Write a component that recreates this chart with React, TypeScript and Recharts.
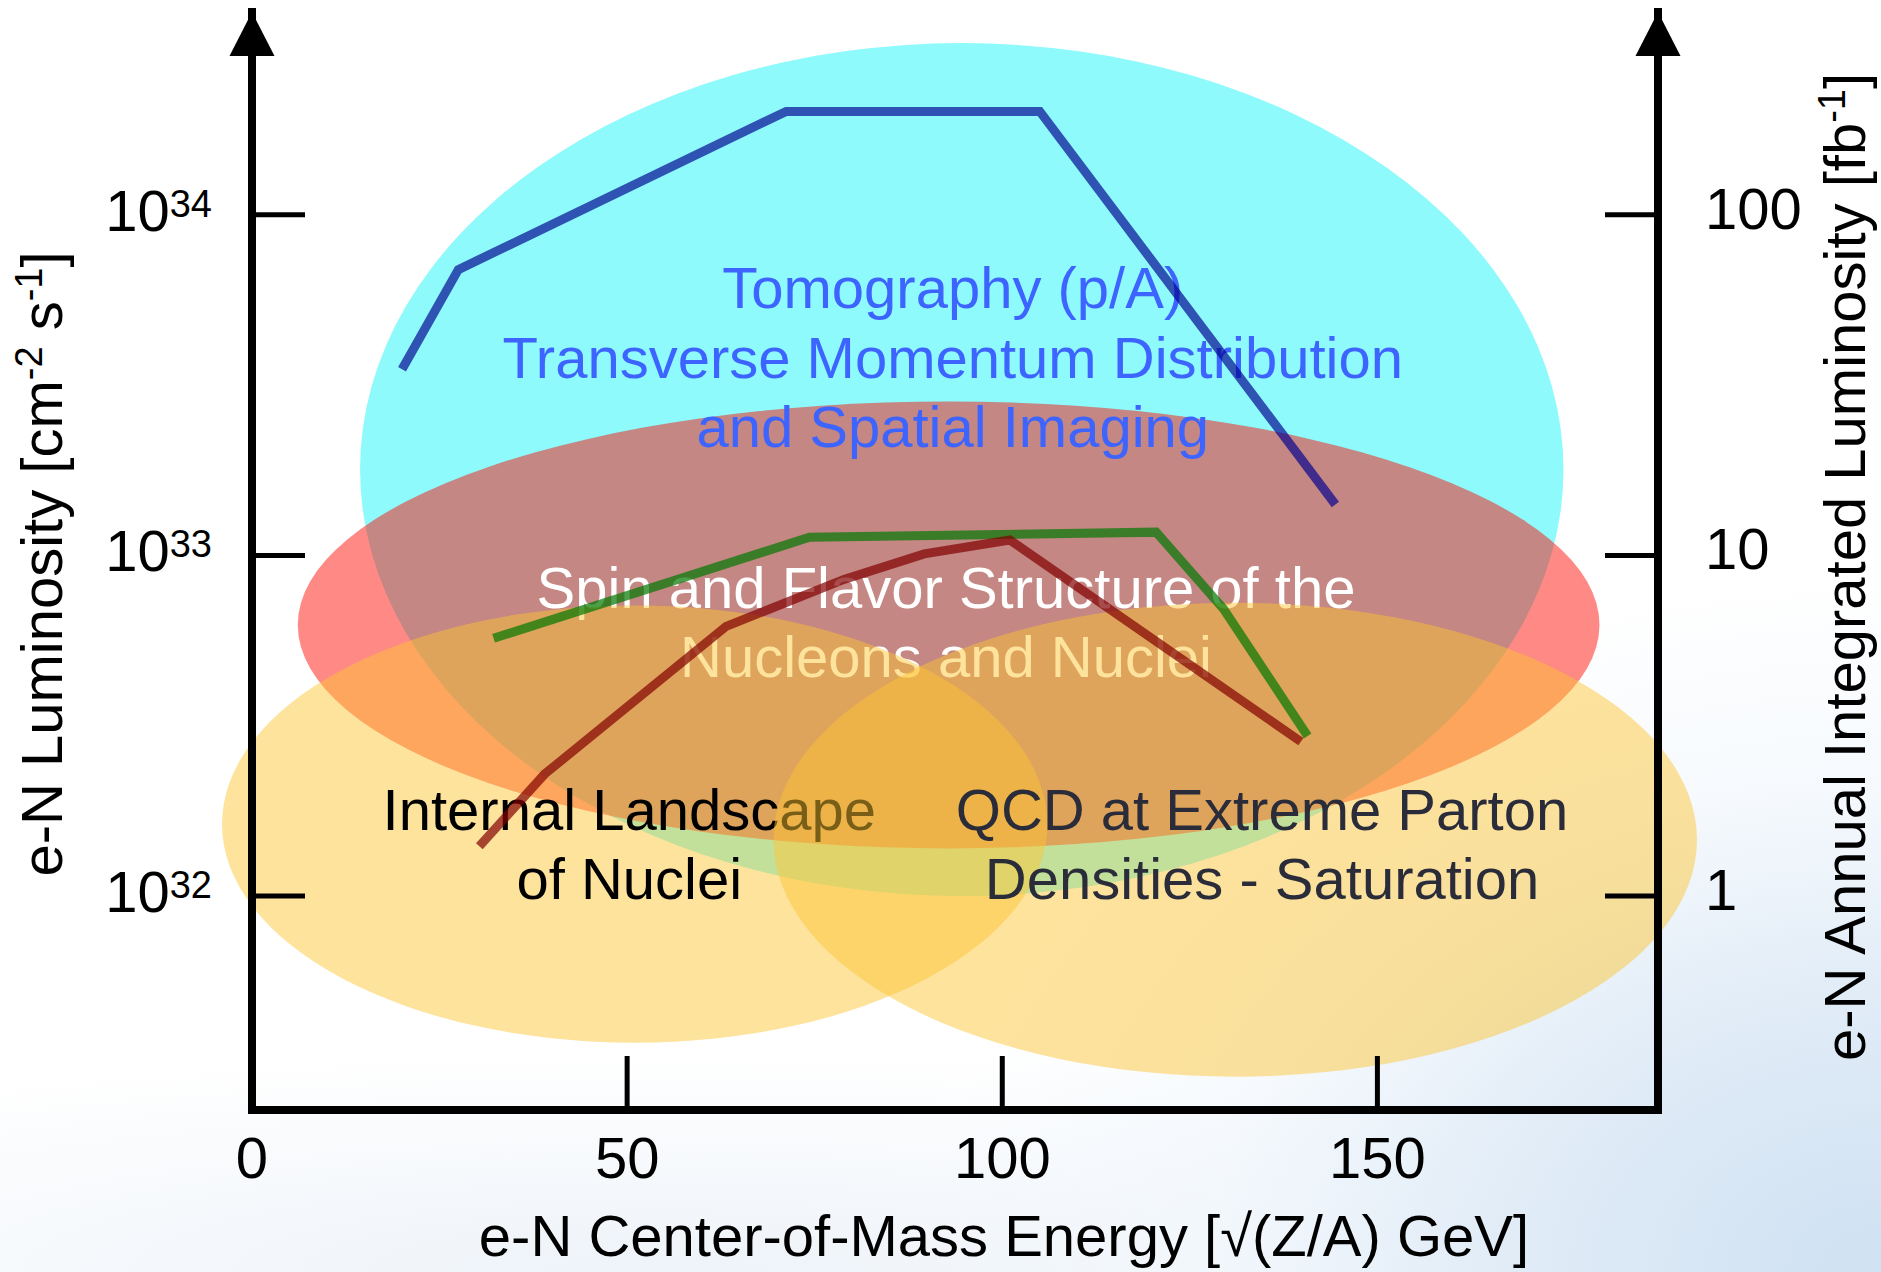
import React from 'react';
import { ComposedChart, Line, XAxis, YAxis, ReferenceArea } from 'recharts';

const W = 1881;
const H = 1272;
const FONT = '"Liberation Sans", Arial, Helvetica, sans-serif';

// ---- data ----
const BLUE_X = [20.0, 27.5, 71.2, 105.0, 144.4];
const BLUE_Y = [3.52e33, 6.9e33, 2.01e34, 2.01e34, 1.41e33];
const GREEN_X = [32.2, 74.3, 120.5, 129.5, 140.7];
const GREEN_Y = [5.71e32, 1.13e33, 1.17e33, 6.96e32, 2.95e32];
const RED_X = [30.3, 39.0, 63.2, 78.9, 89.6, 101.0, 139.8];
const RED_Y = [1.4e32, 2.28e32, 6.19e32, 8.5e32, 1.01e33, 1.11e33, 2.84e32];

const X_TICKS = [0, 50, 100, 150];
const X_TICK_LABELS = ['0', '50', '100', '150'];
const LEFT_TICKS = [1e32, 1e33, 1e34];
const LEFT_TICK_EXP = ['32', '33', '34'];
const RIGHT_TICKS = [1, 10, 100];
const RIGHT_TICK_LABELS = ['1', '10', '100'];

const REGION_LABELS = [
  ['Tomography (p/A)', 'Transverse Momentum Distribution', 'and Spatial Imaging'],
  ['Spin and Flavor Structure of the', 'Nucleons and Nuclei'],
  ['Internal Landscape', 'of Nuclei'],
  ['QCD at Extreme Parton', 'Densities - Saturation'],
];
const REGION_X1 = [14.4, 6.1, -4.0, 69.5];
const REGION_X2 = [174.8, 179.6, 106.0, 192.6];
const REGION_Y1 = [1.0e32, 1.38e32, 3.71e31, 2.95e31];
const REGION_Y2 = [3.19e34, 2.83e33, 7.13e32, 7.26e32];

// ---- styles ----
const REGION_STYLE = [
  { fill: '#8EFAFC', opacity: 1, text: '#3D64FF', fx: 0.4925, fy: 0.3107, lh: 69.5 },
  { fill: 'rgb(255,10,0)', opacity: 0.478, text: '#FFFFFF', fx: 0.498, fy: 0.4625, lh: 69 },
  { fill: 'rgb(252,196,50)', opacity: 0.48, text: '#000000', fx: 0.4935, fy: 0.5137, lh: 69 },
  { fill: 'rgb(252,196,50)', opacity: 0.48, text: '#2B2C3A', fx: 0.529, fy: 0.4797, lh: 69 },
];
// drawing order: [regionIndex, part]
const DRAW_ORDER: [number, 'shape' | 'label'][] = [
  [0, 'shape'], [1, 'shape'], [0, 'label'], [1, 'label'],
  [2, 'shape'], [2, 'label'], [3, 'shape'], [3, 'label'],
];

const Y_MIN = Math.pow(10, 31.372);
const Y_MAX = Math.pow(10, 34.595);
const R_MIN = Y_MIN / 1e32;
const R_MAX = Y_MAX / 1e32;
const X_MAX = 187.4;

const toPts = (xs: number[], ys: number[]) => xs.map((x, i) => ({ x, y: ys[i] }));
const blueData = toPts(BLUE_X, BLUE_Y);
const greenData = toPts(GREEN_X, GREEN_Y);
const redData = toPts(RED_X, RED_Y);

const makeShape = (idx: number, part: 'shape' | 'label') => (props: any) => {
  const { x, y, width, height } = props;
  const st = REGION_STYLE[idx];
  if (part === 'shape') {
    return (
      <ellipse
        cx={x + width / 2}
        cy={y + height / 2}
        rx={Math.abs(width) / 2}
        ry={Math.abs(height) / 2}
        fill={st.fill}
        fillOpacity={st.opacity}
      />
    );
  }
  const cx = x + width * st.fx;
  const by = y + height * st.fy;
  return (
    <text fontFamily={FONT} fontSize={58} fill={st.text} textAnchor="middle">
      {REGION_LABELS[idx].map((t, i) => (
        <tspan key={i} x={cx} y={by + i * st.lh}>{t}</tspan>
      ))}
    </text>
  );
};

const LeftTick = (props: any) => {
  const { x, y, payload } = props;
  const i = LEFT_TICKS.indexOf(payload.value);
  return (
    <g>
      <line x1={x} y1={y} x2={x + 53} y2={y} stroke="#000" strokeWidth={5} />
      <text x={x - 40} y={y + 16} textAnchor="end" fontFamily={FONT} fontSize={58} fill="#000">
        <tspan>10</tspan>
        <tspan dy={-14} fontSize={38}>{LEFT_TICK_EXP[i]}</tspan>
      </text>
    </g>
  );
};

const RightTick = (props: any) => {
  const { x, y, payload } = props;
  const i = RIGHT_TICKS.indexOf(payload.value);
  return (
    <g>
      <line x1={x} y1={y} x2={x - 53} y2={y} stroke="#000" strokeWidth={5} />
      <text x={x + 47} y={y + 14} textAnchor="start" fontFamily={FONT} fontSize={58} fill="#000">
        {RIGHT_TICK_LABELS[i]}
      </text>
    </g>
  );
};

const BottomTick = (props: any) => {
  const { x, y, payload } = props;
  const i = X_TICKS.indexOf(payload.value);
  return (
    <g>
      {payload.value !== 0 && (
        <line x1={x} y1={y} x2={x} y2={y - 54} stroke="#000" strokeWidth={5} />
      )}
      <text x={x} y={y + 68} textAnchor="middle" fontFamily={FONT} fontSize={58} fill="#000">
        {X_TICK_LABELS[i]}
      </text>
    </g>
  );
};

const Arrow = ({ tx, ty }: { tx: number; ty: number }) => (
  <polygon points={`${tx},${ty} ${tx - 22.5},${ty + 44} ${tx + 22.5},${ty + 44}`} fill="#000" />
);

const LeftTitle = (props: any) => {
  const vb = props.viewBox || { x: 0, y: 12, width: 252, height: 1098 };
  const ax = vb.x + vb.width;
  const bx = 62;
  const cy = 564;
  return (
    <g>
      <Arrow tx={ax} ty={vb.y} />
      <text
        transform={`translate(${bx},${cy}) rotate(-90)`}
        textAnchor="middle"
        fontFamily={FONT}
        fontSize={58}
        fill="#000"
      >
        <tspan>e-N Luminosity [cm</tspan>
        <tspan dy={-20} fontSize={38}>-2</tspan>
        <tspan dy={20}> s</tspan>
        <tspan dy={-20} fontSize={38}>-1</tspan>
        <tspan dy={20}>]</tspan>
      </text>
    </g>
  );
};

const RightTitle = (props: any) => {
  const vb = props.viewBox || { x: 1658, y: 12, width: 223, height: 1098 };
  const ax = vb.x;
  const bx = 1865;
  const cy = 567;
  return (
    <g>
      <Arrow tx={ax} ty={vb.y} />
      <text
        transform={`translate(${bx},${cy}) rotate(-90)`}
        textAnchor="middle"
        fontFamily={FONT}
        fontSize={58}
        fill="#000"
      >
        <tspan>e-N Annual Integrated Luminosity [fb</tspan>
        <tspan dy={-20} fontSize={38}>-1</tspan>
        <tspan dy={20}>]</tspan>
      </text>
    </g>
  );
};

const BottomTitle = () => (
  <text x={1004} y={1256} textAnchor="middle" fontFamily={FONT} fontSize={58} fill="#000">
    e-N Center-of-Mass Energy [√(Z/A) GeV]
  </text>
);

export default function App() {
  return (
    <div
      style={{
        width: W,
        height: H,
        background:
          'radial-gradient(ellipse 950px 700px at 100% 100%, #cfe1f2 0%, #e1ecf7 40%, rgba(240,246,252,0.6) 70%, rgba(255,255,255,0) 100%), radial-gradient(ellipse 1300px 220px at 35% 100%, #eef3f9 0%, rgba(255,255,255,0) 100%), #ffffff',
        overflow: 'hidden',
      }}
    >
      <style>{'body{margin:0;}'}</style>
      <ComposedChart width={W} height={H} margin={{ top: 12, right: 0, bottom: 0, left: 0 }}>
        <XAxis
          type="number"
          dataKey="x"
          domain={[0, X_MAX]}
          allowDataOverflow
          ticks={X_TICKS}
          interval={0}
          height={162}
          tickSize={0}
          tickMargin={0}
          tickLine={false}
          tick={BottomTick}
          axisLine={{ stroke: '#000', strokeWidth: 8, strokeLinecap: 'square' }}
          label={<BottomTitle />}
        />
        <YAxis
          yAxisId="left"
          orientation="left"
          scale="log"
          domain={[Y_MIN, Y_MAX]}
          allowDataOverflow
          ticks={LEFT_TICKS}
          interval={0}
          width={252}
          tickSize={0}
          tickMargin={0}
          tickLine={false}
          tick={LeftTick}
          axisLine={{ stroke: '#000', strokeWidth: 8, strokeLinecap: 'square' }}
          label={{ content: LeftTitle }}
        />
        <YAxis
          yAxisId="right"
          orientation="right"
          scale="log"
          domain={[R_MIN, R_MAX]}
          allowDataOverflow
          ticks={RIGHT_TICKS}
          interval={0}
          width={223}
          tickSize={0}
          tickMargin={0}
          tickLine={false}
          tick={RightTick}
          axisLine={{ stroke: '#000', strokeWidth: 8, strokeLinecap: 'square' }}
          label={{ content: RightTitle }}
        />
        {DRAW_ORDER.map(([idx, part]) => (
          <ReferenceArea
            key={`${idx}-${part}`}
            yAxisId="left"
            x1={REGION_X1[idx]}
            x2={REGION_X2[idx]}
            y1={REGION_Y1[idx]}
            y2={REGION_Y2[idx]}
            ifOverflow="visible"
            shape={makeShape(idx, part)}
          />
        ))}
        <Line
          yAxisId="left"
          data={blueData}
          dataKey="y"
          type="linear"
          stroke="rgb(0,0,143)"
          strokeOpacity={0.67}
          strokeWidth={9}
          strokeLinejoin="miter"
          dot={false}
          activeDot={false}
          isAnimationActive={false}
        />
        <Line
          yAxisId="left"
          data={greenData}
          dataKey="y"
          type="linear"
          stroke="rgb(0,120,0)"
          strokeOpacity={0.7}
          strokeWidth={9}
          strokeLinejoin="miter"
          dot={false}
          activeDot={false}
          isAnimationActive={false}
        />
        <Line
          yAxisId="left"
          data={redData}
          dataKey="y"
          type="linear"
          stroke="rgb(130,0,0)"
          strokeOpacity={0.7}
          strokeWidth={9}
          strokeLinejoin="miter"
          dot={false}
          activeDot={false}
          isAnimationActive={false}
        />
      </ComposedChart>
    </div>
  );
}
